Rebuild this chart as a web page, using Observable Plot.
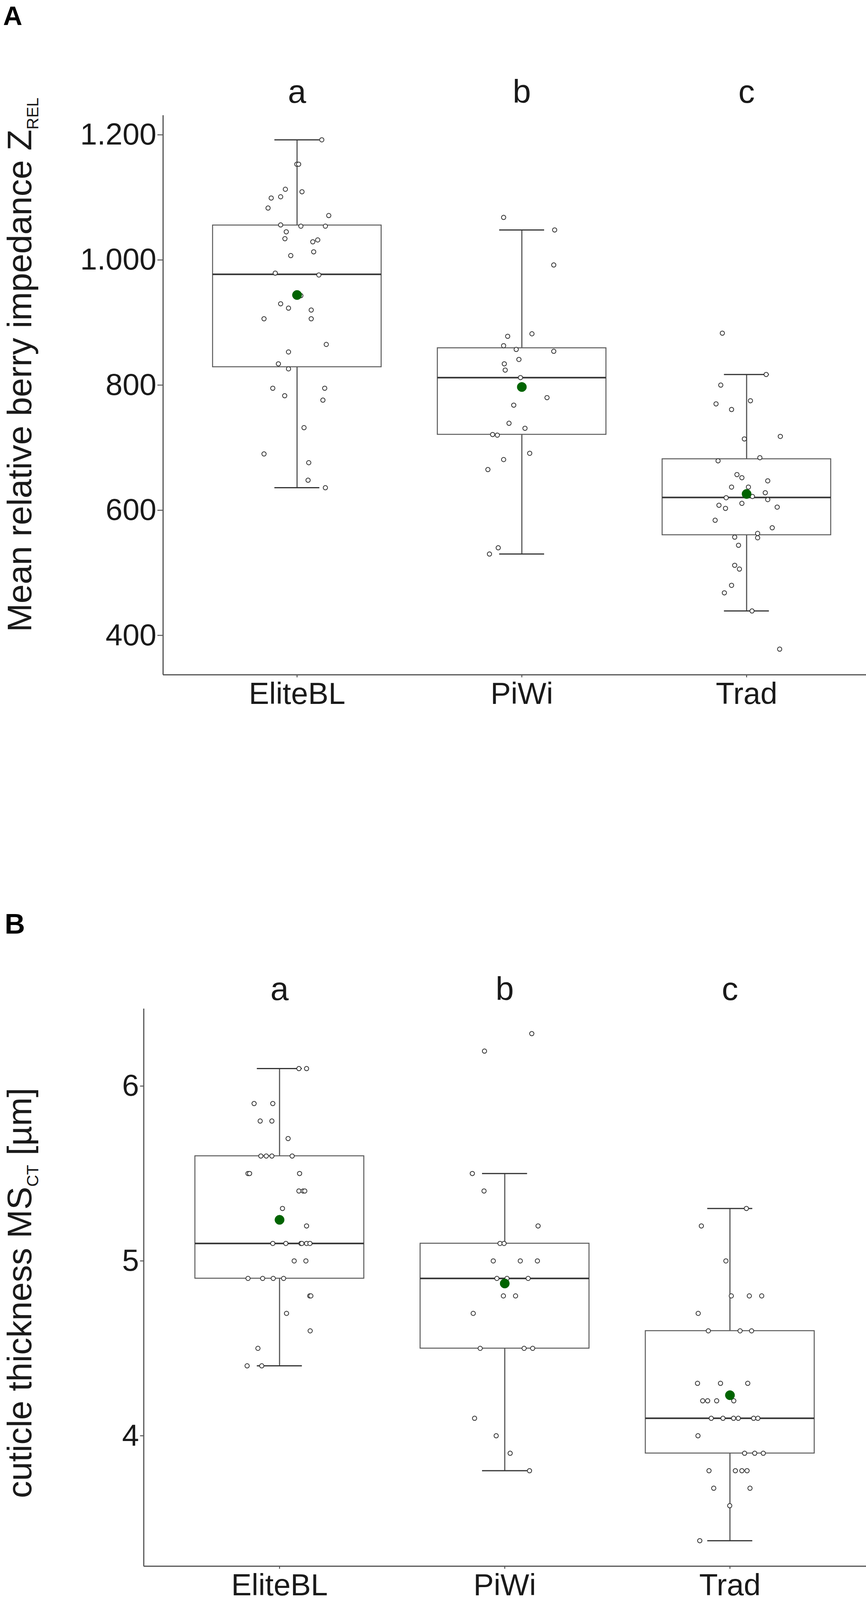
<!DOCTYPE html>
<html>
<head>
<meta charset="utf-8">
<script src="https://cdn.jsdelivr.net/npm/d3@7"></script>
<script src="https://cdn.jsdelivr.net/npm/@observablehq/plot@0.6"></script>
<style>
  html, body { margin: 0; padding: 0; background: white; overflow: hidden; }
  #wrap svg { display: block; }
</style>
</head>
<body>
<div id="wrap"></div>
<script>
// ---------- categories & labels ----------
const groups = ["EliteBL", "PiWi", "Trad"];
const letters = ["a", "b", "c"];

// ---------- Panel A: mean relative berry impedance ----------
const zTicks = [400, 600, 800, 1000, 1200];
const zEliteBL = [1192,1153,1153,1113,1109,1099,1101,1083,1071,1056,1054,1054,1045,1034,1029,1032,1013,1007,979,976,943,930,923,920,906,906,865,853,834,826,795,795,783,776,732,690,676,648,636];
const zEliteBLjit = [0.110,-0.001,0.007,-0.052,0.022,-0.115,-0.073,-0.129,0.141,-0.073,0.017,0.126,-0.048,-0.054,0.070,0.092,0.074,-0.028,-0.097,0.097,0.017,-0.073,-0.038,0.063,-0.147,0.063,0.130,-0.038,-0.083,-0.038,-0.108,0.123,-0.055,0.115,0.031,-0.147,0.052,0.049,0.126];
const zPiWi = [1068,1048,992,882,878,863,857,854,841,834,824,812,780,768,739,731,721,720,691,681,665,540,530];
const zPiWijit = [-0.081,0.146,0.142,0.045,-0.063,-0.081,-0.025,0.142,-0.013,-0.078,-0.074,-0.006,0.112,-0.036,-0.057,0.014,-0.130,-0.109,0.035,-0.081,-0.151,-0.105,-0.144];
const zTrad = [883,817,800,775,770,761,714,718,684,679,657,652,647,637,637,628,622,620,617,608,611,603,605,584,572,563,557,556,544,512,506,480,468,439,378];
const zTradjit = [-0.108,0.087,-0.115,0.017,-0.136,-0.067,-0.010,0.150,0.059,-0.127,-0.043,-0.021,0.094,-0.067,0.008,0.083,0.026,-0.091,0.094,-0.123,-0.021,-0.094,0.136,-0.140,0.114,0.049,-0.053,0.049,-0.036,-0.053,-0.032,-0.067,-0.099,0.024,0.147];
const zLow  = [636, 530, 439];
const zQ1   = [829, 721, 560.5];
const zMed  = [977, 812, 620.4];
const zQ3   = [1055.5, 859.3, 681.9];
const zHigh = [1192, 1048, 817];
const zMean = [944, 797, 626];

// ---------- Panel B: cuticle thickness ----------
const ctTicks = [4, 5, 6];
const ctEliteBL = [6.1,6.1,5.9,5.9,5.8,5.8,5.7,5.6,5.6,5.6,5.6,5.5,5.5,5.5,5.4,5.4,5.4,5.3,5.2,5.1,5.1,5.1,5.1,5.1,5.1,5.0,5.0,4.9,4.9,4.9,4.9,4.8,4.8,4.7,4.6,4.5,4.4,4.4];
const ctEliteBLjit = [0.086,0.120,-0.113,-0.030,-0.086,-0.034,0.038,-0.083,-0.059,-0.034,0.056,-0.140,-0.133,0.089,0.086,0.105,0.112,0.013,0.120,-0.030,0.028,0.095,0.099,0.120,0.135,0.065,0.117,-0.140,-0.075,-0.028,0.018,0.134,0.139,0.031,0.136,-0.096,-0.144,-0.079];
const ctPiWi = [6.3,6.2,5.5,5.4,5.2,5.1,5.1,5.0,5.0,5.0,4.9,4.9,4.9,4.8,4.8,4.7,4.5,4.5,4.5,4.1,4.0,3.9,3.8];
const ctPiWijit = [0.12,-0.09,-0.144,-0.092,0.148,-0.021,-0.003,-0.051,0.069,0.145,-0.035,0.010,0.104,-0.006,0.048,-0.140,-0.109,0.086,0.124,-0.134,-0.038,0.024,0.110];
const ctTrad = [5.3,5.2,5.0,4.8,4.8,4.8,4.7,4.6,4.6,4.6,4.3,4.3,4.3,4.2,4.2,4.2,4.2,4.1,4.1,4.1,4.1,4.1,4.1,4.0,3.9,3.9,3.9,3.8,3.8,3.8,3.8,3.7,3.7,3.6,3.4];
const ctTradjit = [0.073,-0.127,-0.018,0.006,0.086,0.141,-0.141,-0.096,0.045,0.096,-0.144,-0.042,0.079,-0.121,-0.099,-0.059,0.017,-0.083,-0.031,0.016,0.037,0.105,0.124,-0.142,0.065,0.110,0.148,-0.093,0.024,0.053,0.076,-0.072,0.089,-0.001,-0.134];
const ctLow  = [4.4, 3.8, 3.4];
const ctQ1   = [4.9, 4.5, 3.9];
const ctMed  = [5.1, 4.9, 4.1];
const ctQ3   = [5.6, 5.1, 4.6];
const ctHigh = [6.1, 5.5, 5.3];
const ctMean = [5.235, 4.871, 4.232];

// ---------- drawing ----------
const FONT = "'Liberation Sans', Arial, Helvetica, sans-serif";
const BOXW = 0.375, CAPW = 0.1;

function panel(o) {
  const stats = groups.map((g, i) => ({
    i, g, letter: letters[i],
    low: o.low[i], q1: o.q1[i], med: o.med[i], q3: o.q3[i], high: o.high[i], mean: o.mean[i]
  }));
  const pts = [];
  o.vals.forEach((arr, i) => arr.forEach((v, k) => pts.push({i, v, j: o.jit[i][k]})));

  const svg = Plot.plot({
    width: 2217,
    height: o.height,
    marginTop: o.marginTop,
    marginBottom: o.marginBottom,
    marginLeft: o.marginLeft,
    marginRight: 0,
    style: {fontFamily: FONT, background: "white", overflow: "visible"},
    x: {type: "linear", domain: o.xDomain},
    y: {type: "linear", domain: o.yDomain},
    marks: [
      Plot.rect(stats, {x1: d => d.i - BOXW, x2: d => d.i + BOXW, y1: "q1", y2: "q3",
        fill: "white", stroke: "#5a5a5a", strokeWidth: 2.5}),
      Plot.ruleX(stats, {x: "i", y1: "q3", y2: "high", stroke: "#5a5a5a", strokeWidth: 3}),
      Plot.ruleX(stats, {x: "i", y1: "low", y2: "q1", stroke: "#5a5a5a", strokeWidth: 3}),
      Plot.ruleY(stats, {y: "high", x1: d => d.i - CAPW, x2: d => d.i + CAPW, stroke: "#333", strokeWidth: 3}),
      Plot.ruleY(stats, {y: "low", x1: d => d.i - CAPW, x2: d => d.i + CAPW, stroke: "#333", strokeWidth: 3}),
      Plot.ruleY(stats, {y: "med", x1: d => d.i - BOXW, x2: d => d.i + BOXW, stroke: "#333", strokeWidth: 4}),
      Plot.dot(pts, {x: d => d.i + d.j, y: "v", r: 5.5, fill: "white", stroke: "#333", strokeWidth: 2}),
      Plot.dot(stats, {x: "i", y: "mean", r: 12, fill: "#006400", stroke: "#006400", strokeWidth: 1}),
      Plot.ruleX([o.xDomain[0]], {stroke: "#555", strokeWidth: 3}),
      Plot.ruleY([o.yDomain[0]], {stroke: "#555", strokeWidth: 3}),
      Plot.axisY({ticks: o.yTicks, tickFormat: o.yFormat, tickSize: o.yTickSize, tickPadding: 3,
        fontSize: 78, fill: "#1a1a1a", stroke: "#555", strokeWidth: 2.5, label: null}),
      Plot.axisX({ticks: [0, 1, 2], tickFormat: i => groups[i], tickSize: 7, tickPadding: 12,
        fontSize: 78, fill: "#1a1a1a", stroke: "#555", strokeWidth: 2.5, label: null}),
      Plot.text(stats, {x: "i", text: "letter", frameAnchor: "top", dy: o.letterDy,
        lineAnchor: "bottom", fontSize: 84, fill: "#1a1a1a"})
    ]
  });

  const s = d3.select(svg);
  s.append("text")
    .attr("x", o.tagX).attr("y", o.tagY)
    .attr("text-anchor", "start")
    .attr("font-family", FONT).attr("font-weight", 900)
    .attr("font-size", o.tagSize).attr("fill", "#000")
    .text(o.tag);
  const t = s.append("text")
    .attr("transform", `translate(${o.titleX},${o.titleY}) rotate(-90)`)
    .attr("text-anchor", "middle")
    .attr("font-family", FONT).attr("font-size", 88).attr("fill", "#1a1a1a");
  t.append("tspan").text(o.titleMain);
  t.append("tspan").attr("font-size", 42).attr("dy", 18).text(o.titleSub);
  if (o.titleTail) t.append("tspan").attr("dy", -18).text(o.titleTail);
  return svg;
}

const wrap = document.getElementById("wrap");

wrap.appendChild(panel({
  height: 2050, marginTop: 295, marginBottom: 323, marginLeft: 417,
  xDomain: [-0.596, 2.532], yDomain: [337, 1231],
  yTicks: zTicks, yFormat: d => d3.format(",")(d).replace(/,/g, "."), yTickSize: 14,
  vals: [zEliteBL, zPiWi, zTrad], jit: [zEliteBLjit, zPiWijit, zTradjit],
  low: zLow, q1: zQ1, med: zMed, q3: zQ3, high: zHigh, mean: zMean,
  letterDy: -33,
  tag: "A", tagX: 8, tagY: 64, tagSize: 68,
  titleX: 80, titleY: 934, titleMain: "Mean relative berry impedance Z", titleSub: "REL", titleTail: ""
}));

wrap.appendChild(panel({
  height: 2054, marginTop: 532, marginBottom: 95, marginLeft: 367.5,
  xDomain: [-0.603, 2.605], yDomain: [3.254, 6.442],
  yTicks: ctTicks, yFormat: d => String(d), yTickSize: 9,
  vals: [ctEliteBL, ctPiWi, ctTrad], jit: [ctEliteBLjit, ctPiWijit, ctTradjit],
  low: ctLow, q1: ctQ1, med: ctMed, q3: ctQ3, high: ctHigh, mean: ctMean,
  letterDy: -23,
  tag: "B", tagX: 12, tagY: 340, tagSize: 72,
  titleX: 80, titleY: 1260, titleMain: "cuticle thickness MS", titleSub: "CT", titleTail: " [µm]"
}));
</script>
</body>
</html>
